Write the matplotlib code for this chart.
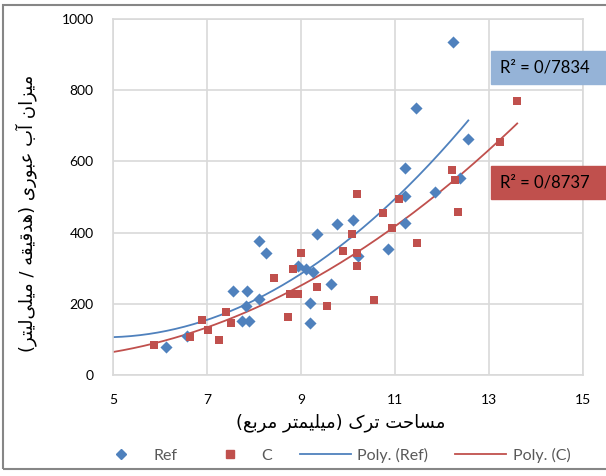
import numpy as np
import matplotlib
matplotlib.use("Agg")
import matplotlib.pyplot as plt
from matplotlib.lines import Line2D
from matplotlib.patches import Rectangle

# Data
ref_x = [6.12, 6.57, 7.55, 7.86, 7.84, 7.74, 7.89, 8.11, 8.25, 8.11, 8.94, 9.11, 9.26,
         9.19, 9.19, 9.34, 9.63, 9.77, 10.11, 10.22, 10.86, 11.21, 11.21, 11.85, 12.23,
         11.45, 12.56, 11.21, 12.38]
ref_y = [80, 110, 235, 235, 194, 152, 152, 376, 343, 213, 306, 299, 289,
         203, 145, 395, 257, 423, 434, 334, 354, 503, 426, 515, 936,
         749, 663, 582, 552]

c_x = [5.88, 6.64, 6.90, 7.03, 7.26, 7.41, 7.52, 8.43, 8.73, 8.77, 8.93, 8.84, 9.01,
       9.33, 9.56, 9.90, 10.09, 10.20, 10.20, 10.20, 10.56, 10.75, 10.94, 11.09, 11.47,
       12.22, 12.28, 12.35, 13.24, 13.60]
c_y = [84, 108, 154, 126, 98, 176, 145, 272, 162, 227, 227, 297, 342,
       246, 193, 348, 395, 508, 342, 306, 211, 454, 412, 493, 370,
       576, 548, 457, 654, 770]

r2_ref = "R² = 0/7834"
r2_c = "R² = 0/8737"
x_title = "مساحت ترک (میلیمتر مربع)"
y_title = "میزان آب عبوری (هدقیقه / میلی\u200cلیتر)"

BLUE = "#4F81BD"
RED = "#C0504D"

# simple persian shaping (matplotlib has no arabic shaping / bidi)
FORMS = {
    'ا': ('\uFE8D', '\uFE8E'), 'آ': ('\uFE81', '\uFE82'), 'د': ('\uFEA9', '\uFEAA'),
    'ر': ('\uFEAD', '\uFEAE'), 'ز': ('\uFEAF', '\uFEB0'), 'و': ('\uFEED', '\uFEEE'),
    'ب': ('\uFE8F', '\uFE90', '\uFE91', '\uFE92'), 'ت': ('\uFE95', '\uFE96', '\uFE97', '\uFE98'),
    'ح': ('\uFEA1', '\uFEA2', '\uFEA3', '\uFEA4'), 'س': ('\uFEB1', '\uFEB2', '\uFEB3', '\uFEB4'),
    'ع': ('\uFEC9', '\uFECA', '\uFECB', '\uFECC'), 'ق': ('\uFED5', '\uFED6', '\uFED7', '\uFED8'),
    'ل': ('\uFEDD', '\uFEDE', '\uFEDF', '\uFEE0'), 'م': ('\uFEE1', '\uFEE2', '\uFEE3', '\uFEE4'),
    'ن': ('\uFEE5', '\uFEE6', '\uFEE7', '\uFEE8'), 'ه': ('\uFEE9', '\uFEEA', '\uFEEB', '\uFEEC'),
    'ی': ('\uFBFC', '\uFBFD', '\uFBFE', '\uFBFF'), 'ک': ('\uFB8E', '\uFB8F', '\uFB90', '\uFB91'),
}


def shape(text):
    out = []
    n = len(text)
    for i, ch in enumerate(text):
        if ch not in FORMS:
            out.append(ch)
            continue
        f = FORMS[ch]
        prev = text[i - 1] if i > 0 else ''
        nxt = text[i + 1] if i < n - 1 else ''
        pj = prev in FORMS and len(FORMS[prev]) == 4
        nj = len(f) == 4 and nxt in FORMS
        if pj and nj:
            out.append(f[3])
        elif pj:
            out.append(f[1])
        elif nj:
            out.append(f[2])
        else:
            out.append(f[0])
    vis = ''.join(reversed(out)).replace('\u200c', '')
    return vis.translate(str.maketrans('()', ')('))


plt.rcParams['font.family'] = ['Lato', 'DejaVu Sans']

fig = plt.figure(figsize=(6.06, 4.76), dpi=100)
W, H = 606, 476
ax = fig.add_axes([113 / W, 1 - 375 / H, 470 / W, 356 / H])

ax.scatter(ref_x, ref_y, marker='D', s=38, color=BLUE, zorder=3, linewidths=0)
ax.scatter(c_x, c_y, marker='s', s=40, color=RED, zorder=3, linewidths=0)

# polynomial (order 2) trendlines, forecast back to x=5 like excel
for xs, ys, col in [(ref_x, ref_y, BLUE), (c_x, c_y, RED)]:
    p = np.polyfit(xs, ys, 2)
    xx = np.linspace(5, max(xs), 200)
    ax.plot(xx, np.polyval(p, xx), color=col, lw=1.3, zorder=2)

ax.set_xlim(5, 15)
ax.set_ylim(0, 1000)
ax.set_xticks([5, 7, 9, 11, 13, 15])
ax.set_yticks([0, 200, 400, 600, 800, 1000])
ax.grid(True, color="#D9D9D9", lw=1.2)
ax.set_axisbelow(True)
for s in ax.spines.values():
    s.set_color("#D9D9D9")
    s.set_linewidth(1.2)
ax.tick_params(length=0, labelsize=10, pad=14, colors="black")

ax.set_xlabel(shape(x_title), fontsize=13, family='DejaVu Sans')
ax.xaxis.set_label_coords(0.485, -0.108)
ax.set_ylabel(shape(y_title), fontsize=13, family='DejaVu Sans')
ax.yaxis.set_label_coords(-0.162, 0.455)

# R² labels
for y0, col, txt in [(51, "#95B3D7", r2_ref), (166, RED, r2_c)]:
    fig.patches.append(Rectangle((491 / W, 1 - (y0 + 33) / H), 120 / W, 33 / H,
                                 transform=fig.transFigure, color=col, zorder=5))
    fig.text(500 / W, 1 - (y0 + 17) / H, txt, fontsize=12, va='center', ha='left', zorder=6)

handles = [
    Line2D([], [], ls='none', marker='D', color=BLUE, markersize=5.5),
    Line2D([], [], ls='none', marker='s', color=RED, markersize=5.5),
    Line2D([], [], color=BLUE, lw=1.3),
    Line2D([], [], color=RED, lw=1.3),
]
leg = fig.legend(handles, ["Ref", "C", "Poly. (Ref)", "Poly. (C)"], ncol=4,
                 loc='center', bbox_to_anchor=(333 / W, 1 - 455 / H), frameon=False,
                 fontsize=11.5, handlelength=3.2, handletextpad=0.4, columnspacing=1.7)
for t in leg.get_texts():
    t.set_color("#595959")

# chart area border
fig.patches.append(Rectangle((3 / W, 1 - 469 / H), 620 / W, 464 / H, transform=fig.transFigure,
                             fill=False, edgecolor="#868686", lw=1.5))

fig.savefig("out.png", dpi=100)
